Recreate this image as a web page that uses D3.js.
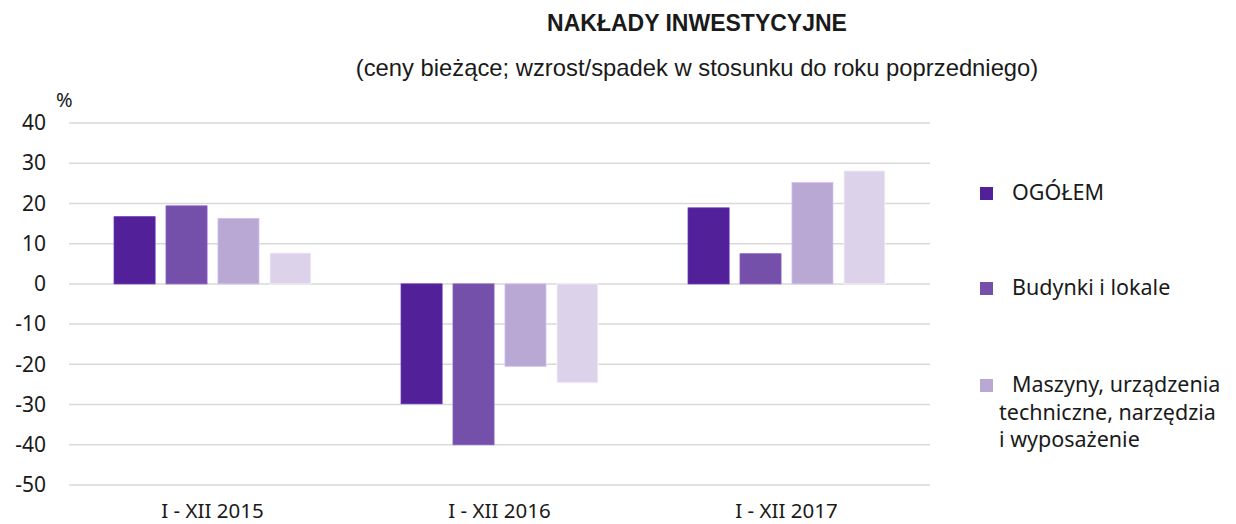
<!DOCTYPE html>
<html>
<head>
<meta charset="utf-8">
<script src="https://cdn.jsdelivr.net/npm/d3@7"></script>
<style>
  body { margin: 0; background: #fff; }
  svg text { fill: #1a1a1a; }
</style>
</head>
<body>
<script>
(function() {
  'use strict';

  const categories = ['I - XII 2015', 'I - XII 2016', 'I - XII 2017'];
  const seriesNames = ['OGÓŁEM', 'Budynki i lokale', 'Maszyny, urządzenia techniczne, narzędzia i wyposażenie', 'Środki transportu'];
  const ogolem = [16.7, -29.8, 18.9];
  const budynki = [19.4, -40.0, 7.5];
  const maszyny = [16.3, -20.5, 25.2];
  const transport = [7.7, -24.6, 28.1];
  const yTicks = [40, 30, 20, 10, 0, -10, -20, -30, -40, -50];
  const colors = ['#52219a', '#7450ab', '#b9a7d4', '#dcd3ea'];

  const series = [ogolem, budynki, maszyny, transport];
  const w = 1236;
  const h = 524;
  const font = '"Noto Sans", sans-serif';

  const svg = d3.select('body').append('svg')
    .attr('width', w)
    .attr('height', h);

  // title and subtitle
  svg.append('text')
    .attr('x', 697).attr('y', 31)
    .attr('text-anchor', 'middle')
    .style('font-family', 'Liberation Sans, Arial, sans-serif')
    .style('font-weight', 'bold')
    .style('font-size', '23px')
    .text('NAKŁADY INWESTYCYJNE');
  svg.append('text')
    .attr('x', 697).attr('y', 76)
    .attr('text-anchor', 'middle')
    .style('font-family', 'Liberation Sans, Arial, sans-serif')
    .style('font-size', '23.8px')
    .text('(ceny bieżące; wzrost/spadek w stosunku do roku poprzedniego)');

  // scales
  const yScale = d3.scaleLinear().domain([-50, 40]).range([485, 123]);
  const x0 = d3.scaleBand().domain(categories).range([69, 930]).paddingInner(0.314).paddingOuter(0.157);
  const x1 = d3.scaleBand().domain(d3.range(series.length)).range([0, x0.bandwidth()]).paddingInner(0.21);

  // grid
  svg.append('g').selectAll('line')
    .data(yTicks)
    .enter().append('line')
    .attr('x1', 69).attr('x2', 930)
    .attr('y1', (d) => yScale(d)).attr('y2', (d) => yScale(d))
    .attr('stroke', '#d9d9d9')
    .attr('stroke-width', 1.5);

  // y axis labels (plain hyphen as minus, like the original)
  const yAxis = d3.axisLeft(yScale).tickValues(yTicks).tickSize(0).tickPadding(0)
    .tickFormat((d) => String(d));
  const yg = svg.append('g')
    .attr('transform', 'translate(46,0)')
    .call(yAxis);
  yg.select('.domain').remove();
  yg.selectAll('text')
    .style('font-family', font)
    .style('font-size', '21px')
    .attr('fill', '#1a1a1a');

  svg.append('text')
    .attr('x', 56).attr('y', 107)
    .style('font-family', font)
    .style('font-size', '20px')
    .text('%');

  // bars
  const groups = svg.append('g').selectAll('g')
    .data(categories)
    .enter().append('g')
    .attr('transform', (d) => 'translate(' + x0(d) + ',0)');

  groups.selectAll('rect')
    .data((d, ci) => series.map((s, si) => ({ si: si, v: s[ci] })))
    .enter().append('rect')
    .attr('x', (d) => x1(d.si))
    .attr('width', x1.bandwidth())
    .attr('y', (d) => yScale(Math.max(0, d.v)))
    .attr('height', (d) => Math.abs(yScale(d.v) - yScale(0)))
    .attr('fill', (d) => colors[d.si])
    .attr('stroke', (d) => d3.color(colors[d.si]).brighter(0.4))
    .attr('stroke-width', 0.8);

  // x axis labels
  const xAxis = d3.axisBottom(x0).tickSize(0).tickPadding(0);
  const xg = svg.append('g')
    .attr('transform', 'translate(0,518)')
    .call(xAxis);
  xg.select('.domain').remove();
  xg.selectAll('text')
    .attr('dy', 0)
    .style('font-family', font)
    .style('font-size', '20.5px')
    .attr('fill', '#1a1a1a');

  // legend (only first three entries visible, as in the original)
  const legendItems = [
    { lines: ['OGÓŁEM'], y: 200 },
    { lines: ['Budynki i lokale'], y: 295 },
    { lines: ['Maszyny, urządzenia', 'techniczne, narzędzia', 'i wyposażenie'], y: 392 }
  ];
  const lg = svg.append('g').selectAll('g')
    .data(legendItems)
    .enter().append('g');
  lg.append('rect')
    .attr('x', 980)
    .attr('y', (d) => d.y - 13)
    .attr('width', 13).attr('height', 13)
    .attr('fill', (d, i) => colors[i]);
  lg.each(function(d) {
    const g = d3.select(this);
    d.lines.forEach((line, j) => {
      g.append('text')
        .attr('x', j === 0 ? 1012 : 999)
        .attr('y', d.y + j * 27.5)
        .style('font-family', font)
        .style('font-size', '21.5px')
        .text(line);
    });
  });
}());
</script>
</body>
</html>
